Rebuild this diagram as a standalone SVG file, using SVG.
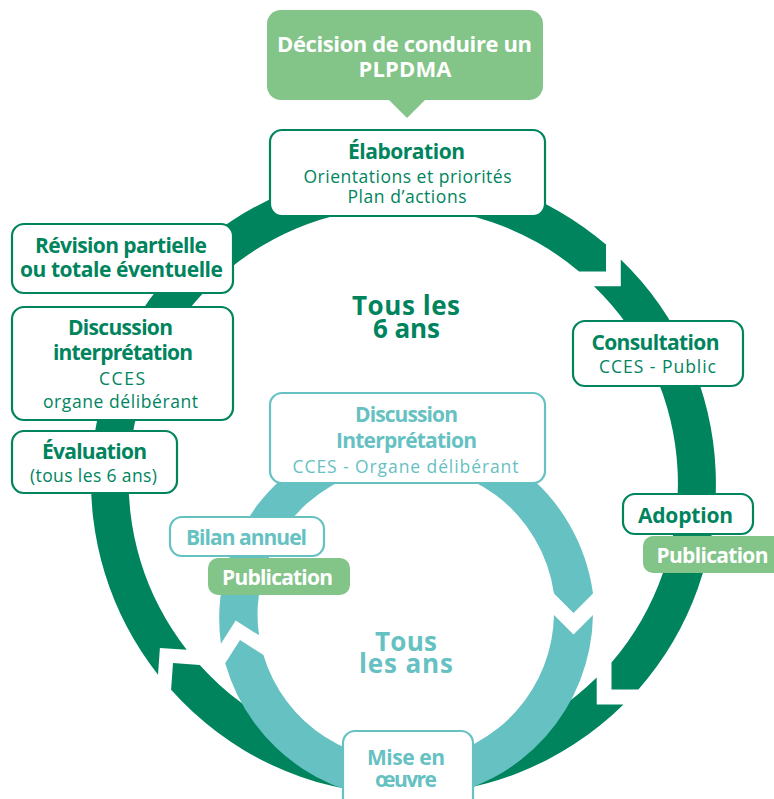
<svg xmlns="http://www.w3.org/2000/svg" width="774" height="799" viewBox="0 0 774 799">
<style>
  text { font-family: "Open Sans", "DejaVu Sans", sans-serif; text-anchor: middle; }
  .b { font-weight: 700; font-size: 21px; }
  .r { font-weight: 400; font-size: 17.5px; }
  .big { font-weight: 700; font-size: 26px; }
  .g { fill: #00845E; }
  .t { fill: #66C1C2; }
  .w { fill: #FFFFFF; }
  .boxg { fill: #FFFFFF; stroke: #00845E; stroke-width: 2.2; }
  .boxt { fill: #FFFFFF; stroke: #66C1C2; stroke-width: 2.2; }
  .boxl { fill: #83C489; }
  .ringg { fill: #00845E; }
  .ringt { fill: #66C1C2; }
</style>
<rect width="774" height="799" fill="#FFFFFF"/>

<g id="connectors">
  <!-- outer green cycle (every 6 years) -->
  <path class="ringg" d="M158,674.7 A312,312 0 0 1 606,244.6 L606,271.5 L579.1,271.5 A274,274 0 0 0 186.7,649.8 L159.9,647.9 Z"/>
  <path class="ringg" d="M620.8,259.4 A312,312 0 0 1 638.4,689.5 L611.5,689.5 L611.5,662.6 A274,274 0 0 0 593.9,286.3 L620.8,286.3 Z"/>
  <path class="ringg" d="M623.5,704.4 A312,312 0 0 1 171.1,689.8 L173,663 L199.8,664.9 A274,274 0 0 0 596.7,677.5 L596.7,704.4 Z"/>
  <!-- inner teal cycle (every year) -->
  <path class="ringt" d="M593,615 A187.5,187.5 0 0 1 225.2,663.3 L240,640 L263.3,654.8 A148.5,148.5 0 0 0 554,615 L573.5,634.5 Z"/>
  <path class="ringt" d="M220.9,643.8 A187.5,187.5 0 1 1 593,593.5 L573.5,613 L554,593.5 A148.5,148.5 0 1 0 259,635.3 L235.7,620.5 Z"/>
</g>

<g id="label-6ans">
  <text class="big g"><tspan x="406" y="315" textLength="108" lengthAdjust="spacing">Tous les</tspan><tspan x="406.5" y="338" textLength="67" lengthAdjust="spacing">6 ans</tspan></text>
</g>
<g id="label-ans">
  <text class="big t"><tspan x="406" y="651" textLength="62" lengthAdjust="spacing">Tous</tspan><tspan x="406" y="673" textLength="94" lengthAdjust="spacing">les ans</tspan></text>
</g>

<g id="decision">
  <rect class="boxl" x="267" y="10" width="276" height="90" rx="14"/>
  <polygon class="boxl" points="388,99 426,99 407,118"/>
  <text class="b w" style="font-size:22px"><tspan x="404.5" y="52" textLength="255" lengthAdjust="spacing">Décision de conduire un</tspan><tspan x="405" y="77" textLength="93" lengthAdjust="spacing">PLPDMA</tspan></text>
</g>

<g id="elaboration">
  <rect class="boxg" x="270" y="130" width="275" height="86" rx="12"/>
  <text class="g"><tspan class="b" x="406.5" y="159" textLength="117" lengthAdjust="spacing">Élaboration</tspan><tspan class="r" x="407.5" y="183" textLength="208" lengthAdjust="spacing">Orientations et priorités</tspan><tspan class="r" x="407" y="203" textLength="119" lengthAdjust="spacing">Plan d’actions</tspan></text>
</g>

<g id="consultation">
  <rect class="boxg" x="573" y="321" width="170" height="65" rx="12"/>
  <text class="g"><tspan class="b" x="655.5" y="350" textLength="128" lengthAdjust="spacing">Consultation</tspan><tspan class="r" x="657.5" y="373" textLength="117" lengthAdjust="spacing">CCES - Public</tspan></text>
</g>

<g id="adoption">
  <rect class="boxg" x="623" y="494" width="130" height="40" rx="12"/>
  <text class="b g" x="685.5" y="523" textLength="95" lengthAdjust="spacing">Adoption</text>
</g>

<g id="publication-6ans">
  <rect class="boxl" x="643" y="536" width="145" height="37" rx="10"/>
  <text class="b w" x="712.5" y="563" textLength="112" lengthAdjust="spacing">Publication</text>
</g>

<g id="revision">
  <rect class="boxg" x="12" y="224" width="221" height="69" rx="12"/>
  <text class="b g"><tspan x="121" y="253" textLength="172" lengthAdjust="spacing">Révision partielle</tspan><tspan x="121.5" y="277" textLength="203" lengthAdjust="spacing">ou totale éventuelle</tspan></text>
</g>

<g id="discussion-6ans">
  <rect class="boxg" x="12" y="307" width="221" height="113" rx="12"/>
  <text class="g"><tspan class="b" x="120.5" y="335" textLength="105" lengthAdjust="spacing">Discussion</tspan><tspan class="b" x="123" y="360" textLength="140" lengthAdjust="spacing">interprétation</tspan><tspan class="r" x="122" y="385" textLength="46" lengthAdjust="spacing">CCES</tspan><tspan class="r" x="120.5" y="408" textLength="155" lengthAdjust="spacing">organe délibérant</tspan></text>
</g>

<g id="evaluation">
  <rect class="boxg" x="12" y="431" width="165" height="62" rx="12"/>
  <text class="g"><tspan class="b" x="94.5" y="459" textLength="105" lengthAdjust="spacing">Évaluation</tspan><tspan class="r" x="93.5" y="482" textLength="127" lengthAdjust="spacing">(tous les 6 ans)</tspan></text>
</g>

<g id="discussion-annuel">
  <rect class="boxt" x="270" y="393" width="275" height="90" rx="12"/>
  <text class="t"><tspan class="b" x="406.5" y="422" textLength="103" lengthAdjust="spacing">Discussion</tspan><tspan class="b" x="406.5" y="448" textLength="141" lengthAdjust="spacing">Interprétation</tspan><tspan class="r" x="405.5" y="473" textLength="226" lengthAdjust="spacing">CCES - Organe délibérant</tspan></text>
</g>

<g id="bilan">
  <rect class="boxt" x="170" y="517" width="154" height="39" rx="12"/>
  <text class="b t" x="246.5" y="545" textLength="121" lengthAdjust="spacing">Bilan annuel</text>
</g>

<g id="publication-annuel">
  <rect class="boxl" x="208" y="558" width="142" height="37" rx="10"/>
  <text class="b w" x="277.5" y="585" textLength="111" lengthAdjust="spacing">Publication</text>
</g>

<g id="mise-en-oeuvre">
  <rect class="boxt" x="343" y="731" width="130" height="82" rx="12"/>
  <text class="b t"><tspan x="406" y="765" textLength="78" lengthAdjust="spacing">Mise en</tspan><tspan x="406" y="787" textLength="62" lengthAdjust="spacing">œuvre</tspan></text>
</g>
</svg>
